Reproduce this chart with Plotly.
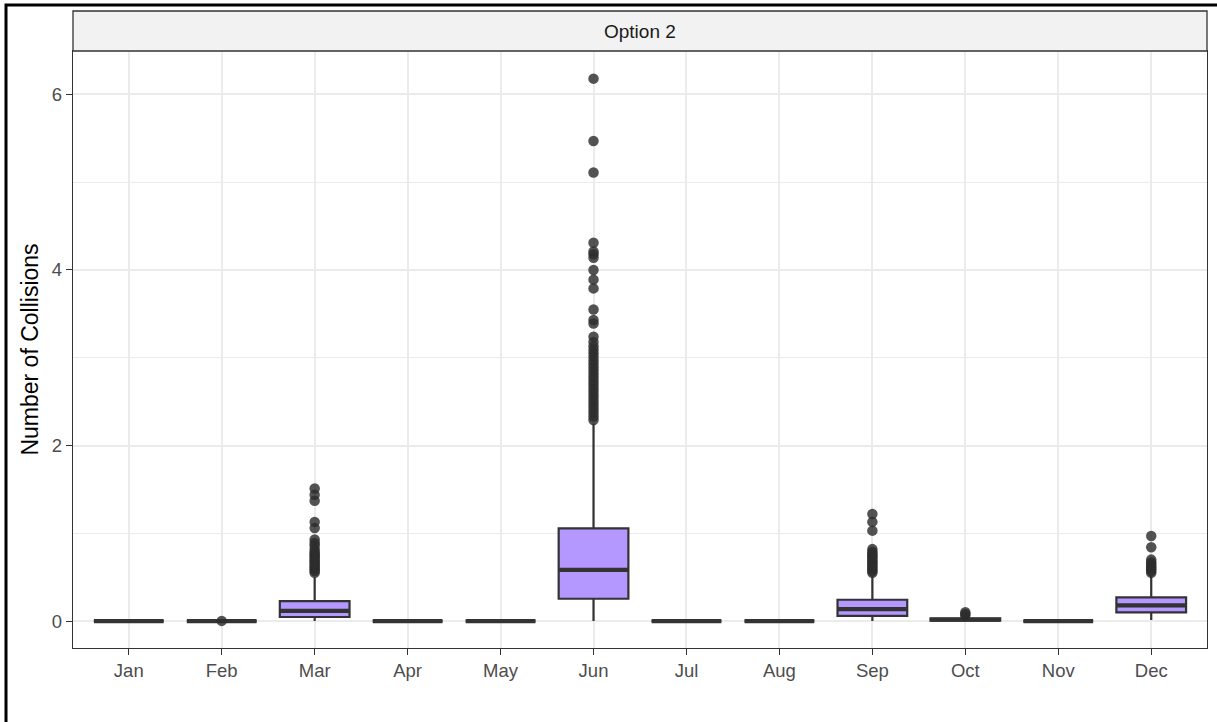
import plotly.graph_objects as go

# ---- data ----
months = ["Jan", "Feb", "Mar", "Apr", "May", "Jun", "Jul", "Aug", "Sep", "Oct", "Nov", "Dec"]
q1 =         [0, 0, 0.046, 0, 0, 0.254, 0, 0, 0.060, 0.005, 0, 0.098]
median =     [0, 0, 0.115, 0, 0, 0.584, 0, 0, 0.137, 0.015, 0, 0.178]
q3 =         [0, 0, 0.228, 0, 0, 1.055, 0, 0, 0.243, 0.030, 0, 0.269]
lowerfence = [0, 0, 0.0,   0, 0, 0.0,   0, 0, 0.0,   0.0,   0, 0.012]
upperfence = [0, 0, 0.50,  0, 0, 2.25,  0, 0, 0.51,  0.05,  0, 0.52]

outliers = {
    "Feb": [0.002],
    "Mar": [0.55, 0.57, 0.59, 0.61, 0.63, 0.65, 0.67, 0.69, 0.71, 0.73, 0.75, 0.77,
            0.79, 0.82, 0.86, 0.89, 0.93, 1.06, 1.13, 1.37, 1.44, 1.51],
    "Jun": [2.29, 2.33, 2.37, 2.41, 2.45, 2.49, 2.53, 2.57, 2.61, 2.65, 2.69, 2.73,
            2.77, 2.81, 2.85, 2.89, 2.93, 2.97, 3.01, 3.05, 3.09, 3.13, 3.18, 3.24,
            3.39, 3.43, 3.55, 3.79, 3.89, 4.00, 4.14, 4.18, 4.21, 4.31, 5.11, 5.47, 6.18],
    "Sep": [0.55, 0.57, 0.59, 0.61, 0.63, 0.65, 0.67, 0.69, 0.71, 0.73, 0.75, 0.77,
            0.79, 0.82, 1.03, 1.13, 1.22],
    "Oct": [0.06, 0.08, 0.10],
    "Dec": [0.55, 0.57, 0.59, 0.61, 0.63, 0.65, 0.67, 0.70, 0.84, 0.97],
}

y_ticks = [0, 2, 4, 6]
panel_label = "Option 2"
y_title = "Number of Collisions"

# ---- styling ----
fill = "#B497FF"
dark = "#333333"
grid = "#EBEBEB"
font_family = "Liberation Sans, Arial, Helvetica, sans-serif"

pos = list(range(1, len(months) + 1))
box_w = 0.75

fig = go.Figure()

# boxes
fig.add_trace(go.Box(
    x=pos, q1=q1, median=median, q3=q3,
    lowerfence=lowerfence, upperfence=upperfence,
    width=box_w, whiskerwidth=0,
    fillcolor=fill, line=dict(color=dark, width=2.2),
    boxpoints=False, hoverinfo="skip", showlegend=False,
))
# thicker median line (ggplot fatten)
fig.add_trace(go.Box(
    x=pos, q1=median, median=median, q3=median,
    lowerfence=median, upperfence=median,
    width=box_w, whiskerwidth=0,
    fillcolor="rgba(0,0,0,0)", line=dict(color=dark, width=4.2),
    boxpoints=False, hoverinfo="skip", showlegend=False,
))

# outliers
ox, oy = [], []
for m, vals in outliers.items():
    i = months.index(m) + 1
    ox += [i] * len(vals)
    oy += vals
fig.add_trace(go.Scatter(
    x=ox, y=oy, mode="markers",
    marker=dict(size=10.5, color="rgba(45,45,45,0.82)", line=dict(width=0)),
    showlegend=False, hoverinfo="y",
))

W, H = 1217, 722
ml, mr, mt, mb = 73, 10, 51, 74
pw, ph = W - ml - mr, H - mt - mb
strip_h = 40

fig.update_layout(
    width=W, height=H,
    margin=dict(l=ml, r=mr, t=mt, b=mb, autoexpand=False),
    paper_bgcolor="white", plot_bgcolor="white",
    font=dict(family=font_family, color="#4D4D4D", size=18),
    showlegend=False,
    boxmode="overlay",
    shapes=[
        # facet strip
        dict(type="rect", xref="paper", yref="paper",
             x0=0, x1=1, y0=1, y1=1 + strip_h / ph,
             fillcolor="#F2F2F2", line=dict(color=dark, width=1.3), layer="above"),
        # outer black frame (right/bottom edges fall outside the picture)
        dict(type="rect", xref="paper", yref="paper",
             x0=(6 - ml) / pw, x1=1.2, y0=-0.3, y1=1 + (mt - 5) / ph,
             fillcolor="rgba(0,0,0,0)", line=dict(color="black", width=3)),
    ],
    annotations=[
        dict(text=panel_label, xref="paper", yref="paper", x=0.5,
             y=1 + strip_h / 2 / ph, showarrow=False,
             font=dict(size=19, color="#1A1A1A", family=font_family),
             xanchor="center", yanchor="middle"),
    ],
)

fig.update_xaxes(
    automargin=False,
    range=[0.4, len(months) + 0.6],
    tickmode="array", tickvals=pos, ticktext=months,
    showgrid=True, gridcolor=grid, gridwidth=1.5,
    zeroline=False,
    showline=True, linecolor=dark, linewidth=1.3, mirror=True,
    ticks="outside", ticklen=6, tickwidth=1.3, tickcolor=dark,
    tickfont=dict(size=18.5, color="#4D4D4D"),
)
fig.update_yaxes(
    automargin=False,
    range=[-0.307, 6.495],
    tickmode="array", tickvals=y_ticks,
    showgrid=True, gridcolor=grid, gridwidth=1.5,
    minor=dict(dtick=1, tick0=0, showgrid=True, gridcolor=grid, gridwidth=0.8, ticks=""),
    zeroline=False,
    showline=True, linecolor=dark, linewidth=1.3, mirror=True,
    ticks="outside", ticklen=6, tickwidth=1.3, tickcolor=dark,
    tickfont=dict(size=18.5, color="#4D4D4D"),
    title=dict(text=y_title, font=dict(size=23, color="black"), standoff=6),
)

fig.write_html(
    "out.html",
    config={"displayModeBar": False},
    post_script="document.body.style.margin='0';document.body.style.overflow='hidden';",
)
